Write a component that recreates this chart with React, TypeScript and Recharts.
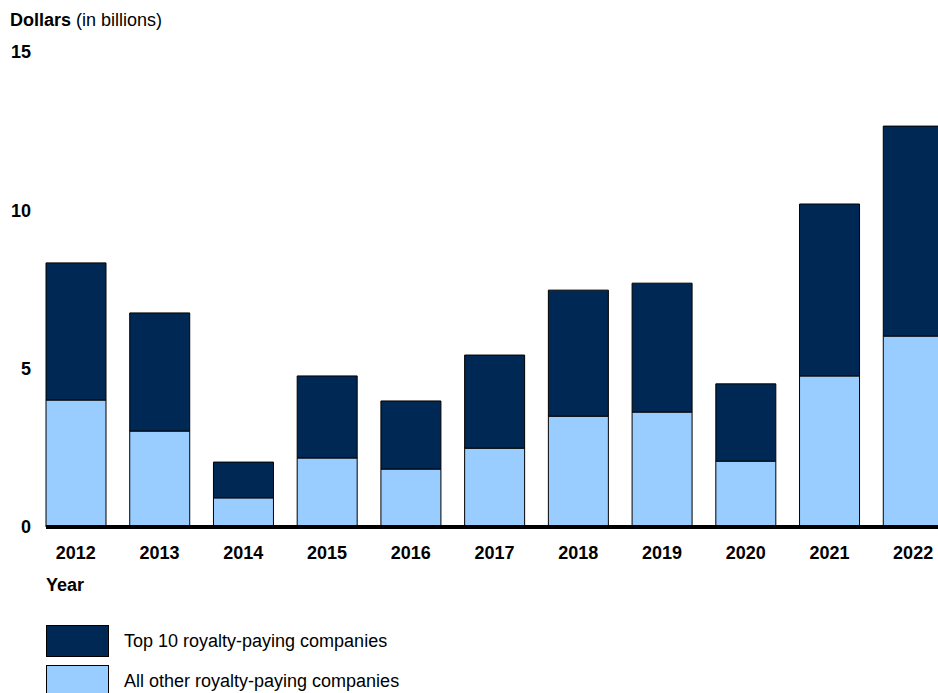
import React from 'react';
import { BarChart, Bar, XAxis, YAxis } from 'recharts';

const years = ['2012', '2013', '2014', '2015', '2016', '2017', '2018', '2019', '2020', '2021', '2022'];
const allOther = [4.01, 3.03, 0.92, 2.18, 1.83, 2.49, 3.5, 3.63, 2.08, 4.77, 6.03];
const top10 = [4.33, 3.73, 1.13, 2.59, 2.15, 2.94, 3.98, 4.07, 2.44, 5.43, 6.63];
const yTicks = [0, 5, 10, 15];

const DARK = '#002855';
const LIGHT = '#99CCFF';
const FONT = '"Liberation Sans", Arial, sans-serif';

const data = years.map((year, i) => ({ year, other: allOther[i], top: top10[i] }));

const legendItems = [
  { label: 'Top 10 royalty-paying companies', color: DARK },
  { label: 'All other royalty-paying companies', color: LIGHT },
];

export default function App() {
  return (
    <div
      style={{
        position: 'fixed',
        left: 0,
        top: 0,
        width: 938,
        height: 693,
        overflow: 'hidden',
        background: '#fff',
        fontFamily: FONT,
      }}
    >
      <div style={{ position: 'absolute', left: 10, top: 10, fontSize: 18, color: '#000' }}>
        <b>Dollars</b> (in billions)
      </div>
      <div style={{ position: 'absolute', left: 46, top: 575, fontSize: 18, fontWeight: 'bold', color: '#000' }}>
        Year
      </div>
      <div style={{ position: 'absolute', left: 46, top: 621, fontSize: 18, color: '#000' }}>
        {legendItems.map((item) => (
          <div key={item.label} style={{ display: 'flex', alignItems: 'center', height: 40 }}>
            <div
              style={{
                width: 61,
                height: 30,
                background: item.color,
                border: '1px solid #000',
                marginRight: 15,
              }}
            />
            <span>{item.label}</span>
          </div>
        ))}
      </div>
      <BarChart
        width={955}
        height={693}
        data={data}
        margin={{ top: 52, right: 0, bottom: 0, left: 0 }}
        barSize={60}
      >
        <YAxis
          width={46}
          domain={[0, 15]}
          ticks={yTicks}
          axisLine={false}
          tickLine={false}
          tickSize={0}
          tickMargin={15}
          tick={{ fontSize: 18, fontWeight: 'bold', fill: '#000', fontFamily: FONT }}
          interval={0}
        />
        <XAxis
          dataKey="year"
          height={166}
          padding={{ left: -12, right: 0 }}
          axisLine={{ stroke: '#000', strokeWidth: 4 }}
          tickLine={false}
          tickSize={0}
          tickMargin={19}
          tick={{ fontSize: 18, fontWeight: 'bold', fill: '#000', fontFamily: FONT }}
          interval={0}
        />
        <Bar dataKey="other" stackId="a" fill={LIGHT} stroke="#000" strokeWidth={1} isAnimationActive={false} />
        <Bar dataKey="top" stackId="a" fill={DARK} stroke="#000" strokeWidth={1} isAnimationActive={false} />
      </BarChart>
    </div>
  );
}
